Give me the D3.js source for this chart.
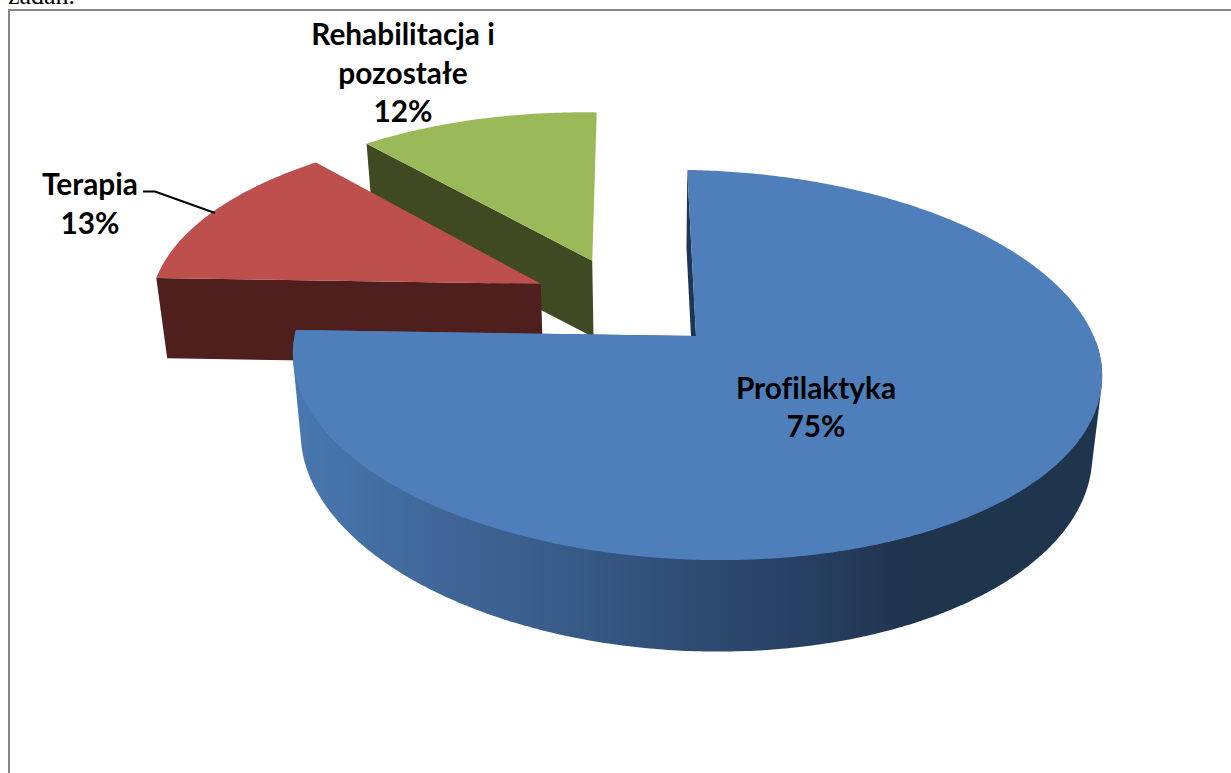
<!DOCTYPE html>
<html>
<head>
<meta charset="utf-8">
<script src="https://cdnjs.cloudflare.com/ajax/libs/d3/7.8.5/d3.min.js"></script>
<style>
html,body{margin:0;padding:0;background:#fff;overflow:hidden}
svg{display:block}
text{font-variant-ligatures:none}
</style>
</head>
<body>
<svg id="c" width="1231" height="773"></svg>
<script>
const categories = ["Profilaktyka", "Terapia", "Rehabilitacja i pozostałe"];
const values = [75, 13.3, 11.7];
const labelLines = [["Profilaktyka"], ["Terapia"], ["Rehabilitacja i", "pozostałe"]];
const topColors = ["#4e7fbb", "#bd4f4c", "#9ab958"];
const sideColors = ["#1f344d", "#4f1f1d", "#3f4a22"];

const W = 1231, H = 773;
const svg = d3.select("#c");

// ---- projection of the pie plane (u right, v towards viewer) ----
const cx = 696, cy = 336, R = 400, A = 190.7, K = 10, T = 6, C = -0.1487;
const top3d = (u, v) => {
  const den = 1 + C * v;
  return [cx + (R * u + K * v) / den, cy + (A * v + T * u) / den];
};
const extraDepth = [0.5, 3.5, 0];
const depth = (v, i) => 78 + 6.5 * v + 6.5 * v * v + extraDepth[i];
const bot3d = i => (u, v) => {
  const p = top3d(u, v);
  return [695 + (p[0] - cx) * 0.978, p[1] + depth(v, i)];
};
// exploded offset of each slice, in plane units
const explode = [[0, 0], [-0.397, -0.272], [-0.265, -0.41]];
const arcs = d3.pie().sort(null).value(d => d)(values);

const rim = (d, i, fn, a0 = d.startAngle, a1 = d.endAngle) => {
  const n = Math.max(2, Math.ceil((a1 - a0) / 0.01));
  return d3.range(n + 1).map(k => {
    const a = a0 + (a1 - a0) * k / n;
    return fn(explode[i][0] + Math.sin(a), explode[i][1] - Math.cos(a));
  });
};
const line = d3.line();

const defs = svg.append("defs");
const grad = defs.append("linearGradient").attr("id", "blueSide")
  .attr("gradientUnits", "userSpaceOnUse").attr("x1", 296).attr("x2", 1096).attr("y1", 0).attr("y2", 0);
[[0, "#4878b0"], [0.15, "#41699b"], [0.35, "#375a87"], [0.5, "#2e4b72"], [0.68, "#253c5c"], [0.76, "#1f344d"], [1, "#1f344d"]]
  .forEach(s => grad.append("stop").attr("offset", s[0]).attr("stop-color", s[1]));

// text line above the frame, cropped by the top edge as in the reference
svg.append("text").attr("x", 8).attr("y", 4)
  .attr("font-family", "'Liberation Serif'").attr("font-size", 26).attr("fill", "#000").text("zadań.");
// frame
svg.append("path").attr("d", `M${W + 2},10H9V${H + 2}`).attr("fill", "none").attr("stroke", "#868686").attr("stroke-width", 2);

// draw back to front: green, red, blue
[2, 1, 0].forEach(i => {
  const d = arcs[i];
  const g = svg.append("g").attr("class", "slice");
  const ex = explode[i];
  const bot = bot3d(i);
  const apexTop = top3d(ex[0], ex[1]), apexBot = bot(ex[0], ex[1]);
  const edge = a => [top3d(ex[0] + Math.sin(a), ex[1] - Math.cos(a)), bot(ex[0] + Math.sin(a), ex[1] - Math.cos(a))];
  const s = edge(d.startAngle);
  if (i === 0) {
    g.append("path").attr("d", line([s[0], s[1], apexBot, apexTop]) + "Z").attr("fill", "#1c3655");
    const a0 = Math.PI / 2, a1 = d.endAngle;
    const hull = d3.polygonHull(rim(d, i, top3d, a0, a1).concat(rim(d, i, bot, a0, a1)));
    g.append("path").attr("d", line(hull) + "Z").attr("fill", "url(#blueSide)");
  } else {
    g.append("path").attr("d", line([s[0], s[1], apexBot, apexTop]) + "Z").attr("fill", sideColors[i]);
  }
  g.append("path")
    .attr("d", line(rim(d, i, top3d).concat([apexTop])) + "Z")
    .attr("fill", topColors[i]);
});

// leader line for Terapia
svg.append("path").attr("d", d3.line()([[143, 191.5], [155, 191.5], [215, 213]]))
  .attr("fill", "none").attr("stroke", "#000").attr("stroke-width", 2);

// labels
const labelPos = [[816, 398.5], [90, 195], [403, 45]];
const lineGap = 38.5;
categories.forEach((c, i) => {
  const t = svg.append("text").attr("text-anchor", "middle")
    .attr("font-family", "Lato").attr("font-weight", 700).attr("font-size", 29.8).attr("fill", "#000");
  const lines = labelLines[i].concat([d3.format(".0f")(values[i]) + "%"]);
  lines.forEach((s, k) => {
    t.append("tspan").attr("x", labelPos[i][0]).attr("y", labelPos[i][1] + k * lineGap).text(s);
  });
});
</script>
</body>
</html>
